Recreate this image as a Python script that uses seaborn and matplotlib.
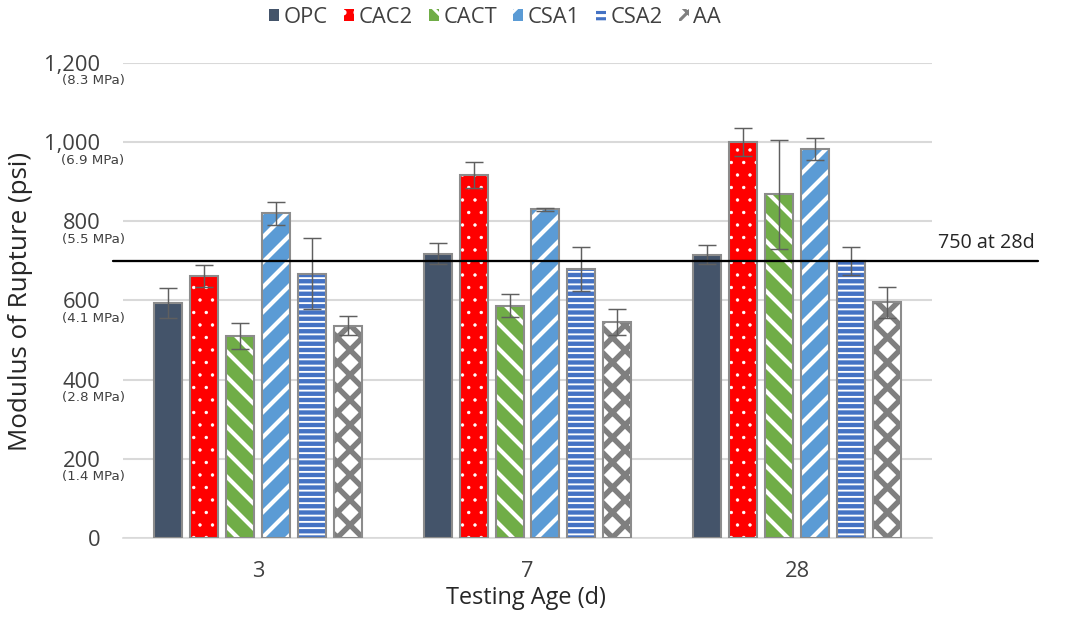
import numpy as np
import pandas as pd
import seaborn as sns
import matplotlib.pyplot as plt
from matplotlib.patches import Patch, Rectangle

ages = ['3', '7', '28']
mixes = ['OPC', 'CAC2', 'CACT', 'CSA1', 'CSA2', 'AA']

opc = [593, 718, 716]
cac2 = [662, 917, 1000]
cact = [511, 587, 868]
csa1 = [820, 830, 982]
csa2 = [668, 680, 700]
aa = [536, 545, 595]

opc_err = [38, 26, 25]
cac2_err = [28, 33, 35]
cact_err = [33, 29, 137]
csa1_err = [30, 4, 28]
csa2_err = [89, 56, 36]
aa_err = [24, 33, 39]

yticks = [0, 200, 400, 600, 800, 1000, 1200]
ytick_labels = ['0', '200', '400', '600', '800', '1,000', '1,200']
mpa_labels = ['', '(1.4 MPa)', '(2.8 MPa)', '(4.1 MPa)', '(5.5 MPa)', '(6.9 MPa)', '(8.3 MPa)']
target = 700

colors = ['#44546A', '#FF0000', '#70AD47', '#5B9BD5', '#4472C4', '#7F7F7F']
hatches = ['', '..', '\\\\', '//', '----', 'xx']
hatch_lw = [0, 0.4, 2.0, 2.0, 0.9, 2.6]
# AA is drawn inverted: white face, grey lattice -> white diamonds
inverted = [False, False, False, False, False, True]

values = [opc, cac2, cact, csa1, csa2, aa]
errors = [opc_err, cac2_err, cact_err, csa1_err, csa2_err, aa_err]
rows = []
for m, v, e in zip(mixes, values, errors):
    for a, vv, ee in zip(ages, v, e):
        rows.append({'age': a, 'mix': m, 'mor': vv, 'err': ee})
df = pd.DataFrame(rows)

sns.set_style('white')
plt.rcParams['font.family'] = ['Open Sans', 'DejaVu Sans']
plt.rcParams['hatch.color'] = 'white'
plt.rcParams['hatch.linewidth'] = 1.5

fig = plt.figure(figsize=(1065 / 150, 619 / 150), dpi=150)
ax = fig.add_axes([0.1157, 0.1309, 0.8749 - 0.1157, 0.8982 - 0.1309])

sns.barplot(data=df, x='age', y='mor', hue='mix', order=ages, hue_order=mixes,
            palette=colors, saturation=1, width=0.8, gap=0.22, errorbar=None,
            legend=False, linewidth=0, edgecolor='white', ax=ax)

bar_conts = list(ax.containers)
for i, cont in enumerate(bar_conts):
    errs = errors[i]
    for p in cont:
        p.set_hatch(hatches[i])
        if inverted[i]:
            p.set_edgecolor(colors[i])
            p.set_facecolor('white')
        else:
            p.set_edgecolor('white')
        p.set_linewidth(0)
        if hasattr(p, 'set_hatch_linewidth'):
            p.set_hatch_linewidth(hatch_lw[i])
        ax.add_patch(Rectangle(p.get_xy(), p.get_width(), p.get_height(),
                               fill=False, ec='#8c8c8c', lw=1.0, zorder=3))
        xc = p.get_x() + p.get_width() / 2
        k = int(round(xc))
        ax.errorbar(xc, p.get_height(), yerr=errs[k], fmt='none', ecolor='#5f5f5f',
                    elinewidth=0.7, capsize=4.5, capthick=0.7, zorder=4)

ax.set_ylim(0, 1200)
ax.set_xlim(-0.5, 2.5)
ax.set_yticks(yticks)
ax.set_yticklabels(ytick_labels)
ax.tick_params(axis='y', length=0, pad=11, labelsize=10.5, labelcolor='#404040')
ax.tick_params(axis='x', length=0, pad=11, labelsize=10.5, labelcolor='#404040')
ax.set_axisbelow(True)
ax.yaxis.grid(True, color='#d9d9d9', lw=1)
for s in ['top', 'right', 'left']:
    ax.spines[s].set_visible(False)
ax.spines['bottom'].set_color('#d9d9d9')

for v, lab in zip(yticks, mpa_labels):
    if lab:
        ax.annotate(lab, xy=(0, v), xycoords=('axes fraction', 'data'),
                    xytext=(-14.5, -8.6), textcoords='offset points',
                    ha='center', va='center', fontsize=6.4, color='#404040',
                    family=['DejaVu Sans'], annotation_clip=False)

ax.axhline(target, xmin=-0.0127, xmax=1.1314, color='black', lw=1.1, clip_on=False, zorder=5)
ax.text(1.0077, 745, '750 at 28d', transform=ax.get_yaxis_transform(),
        ha='left', va='center', fontsize=9.5, color='#262626')

ax.set_ylabel('Modulus of Rupture (psi)', fontsize=12.5, color='#262626', va='center')
ax.yaxis.set_label_coords(-0.1265, 0.499)
ax.set_xlabel('Testing Age (d)', fontsize=11.3, color='#262626', va='center')
ax.xaxis.set_label_coords(0.498, -0.126)

handles = []
for c, h, m, inv in zip(colors, hatches, mixes, inverted):
    if inv:
        handles.append(Patch(facecolor='white', hatch=h, edgecolor=c, lw=0, label=m))
    else:
        handles.append(Patch(facecolor=c, hatch=h, edgecolor='white', lw=0, label=m))
fig.legend(handles=handles, loc='center', bbox_to_anchor=(0.465, 0.9725), ncol=6,
           frameon=False, fontsize=10.5, handlelength=0.45, handleheight=0.45,
           handletextpad=0.2, columnspacing=0.75, labelcolor='#404040')

fig.savefig('out.png', dpi=150)
